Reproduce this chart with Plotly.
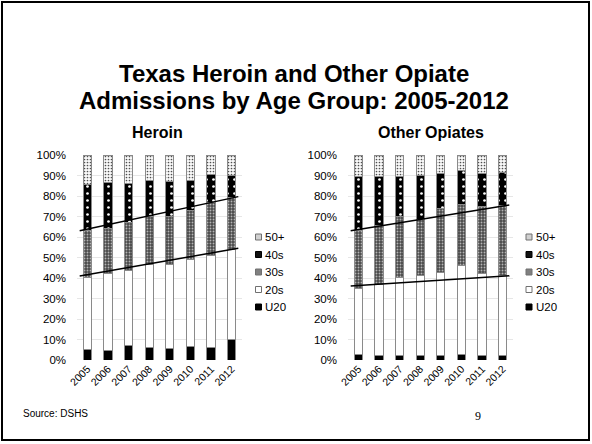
import plotly.graph_objects as go

years = ["2005", "2006", "2007", "2008", "2009", "2010", "2011", "2012"]
groups = ["U20", "20s", "30s", "40s", "50+"]

# Cumulative tops (percent), per age group
heroin_cum = {
    "U20": [4.9, 4.6, 7.3, 6.2, 5.4, 6.5, 6.0, 9.8],
    "20s": [40.3, 42.3, 43.9, 46.7, 46.7, 48.8, 51.2, 53.7],
    "30s": [63.4, 64.2, 67.0, 70.2, 70.2, 72.8, 76.7, 79.3],
    "40s": [85.4, 86.5, 86.2, 87.8, 87.3, 87.5, 90.6, 90.2],
    "50+": [100, 100, 100, 100, 100, 100, 100, 100],
}
opiates_cum = {
    "U20": [2.9, 2.4, 2.4, 2.4, 2.3, 2.6, 2.3, 2.4],
    "20s": [35.0, 36.6, 40.3, 41.0, 42.6, 46.0, 42.3, 41.0],
    "30s": [63.4, 65.4, 70.2, 68.6, 74.0, 75.9, 75.1, 75.6],
    "40s": [89.4, 89.4, 89.4, 89.8, 91.1, 92.2, 91.1, 91.5],
    "50+": [100, 100, 100, 100, 100, 100, 100, 100],
}

# Trend lines (start, end values in percent)
trend_x = [-0.37, 7.32]
heroin_trend_low = [41.0, 54.5]
heroin_trend_high = [63.1, 79.7]
opiates_trend_low = [36.1, 41.1]
opiates_trend_high = [63.1, 75.6]

ytick_vals = [0, 10, 20, 30, 40, 50, 60, 70, 80, 90, 100]
ytick_text = [f"{v}%" for v in ytick_vals]

patterns = {
    "U20": dict(bg="black", fg="black", shape="", size=4, solidity=0.3),
    "20s": dict(bg="white", fg="white", shape="", size=4, solidity=0.3),
    "30s": dict(bg="#4a4a4a", fg="#b4b4b4", shape=".", size=3, solidity=0.3),
    "40s": dict(bg="black", fg="white", shape=".", size=7, solidity=0.12),
    "50+": dict(bg="#fafafa", fg="#505050", shape=".", size=3, solidity=0.25),
}
swatch_fill = {"50+": "#d0d0d0", "40s": "#111111", "30s": "#808080", "20s": "white", "U20": "black"}

W, H = 592, 444
FONT = "Arial, Liberation Sans, sans-serif"

fig = go.Figure()


def seg(cum):
    vals = {}
    prev = [0] * len(years)
    for g in groups:
        vals[g] = [round(c - p, 2) for c, p in zip(cum[g], prev)]
        prev = cum[g]
    return vals


def add_chart(cum, tlow, thigh, xa, ya):
    vals = seg(cum)
    for g in groups:
        p = patterns[g]
        fig.add_trace(go.Bar(
            x=list(range(len(years))), y=vals[g], name=g,
            xaxis=xa, yaxis=ya, width=0.4, showlegend=False,
            marker=dict(
                color=p["bg"],
                line=dict(color="#8a8a8a", width=1),
                pattern=dict(shape=p["shape"], bgcolor=p["bg"], fgcolor=p["fg"],
                             size=p["size"], solidity=p["solidity"], fillmode="replace"),
            ),
            hoverinfo="skip",
        ))
    for t in (tlow, thigh):
        fig.add_trace(go.Scatter(
            x=trend_x, y=t, mode="lines", xaxis=xa, yaxis=ya,
            line=dict(color="black", width=1.5), showlegend=False, hoverinfo="skip",
        ))


add_chart(heroin_cum, heroin_trend_low, heroin_trend_high, "x", "y")
add_chart(opiates_cum, opiates_trend_low, opiates_trend_high, "x2", "y2")

xdom1 = [77 / W, 242 / W]
xdom2 = [348 / W, 513 / W]
ydom = [1 - 360 / H, 1 - 155 / H]

xcommon = dict(range=[-0.5, 7.5], tickvals=list(range(len(years))), ticktext=years,
               tickangle=-45, tickfont=dict(size=10.5, color="black", family=FONT),
               showgrid=False, zeroline=False, showline=False, ticks="",
               automargin=False, fixedrange=True)
ycommon = dict(range=[0, 100], tickvals=ytick_vals, ticktext=ytick_text,
               tickfont=dict(size=11.5, color="black", family=FONT),
               showgrid=True, gridcolor="#e6e6e6", gridwidth=1, zeroline=False,
               showline=False, ticks="", ticklabelstandoff=10,
               automargin=False, fixedrange=True)

shapes = [dict(type="rect", xref="paper", yref="paper",
               x0=2 / W, x1=589 / W, y0=1 - 440 / H, y1=1 - 2 / H,
               line=dict(color="black", width=2), fillcolor="rgba(0,0,0,0)")]
annotations = [
    dict(text="<b>Texas Heroin and Other Opiate</b>", x=294 / W, y=1 - 73 / H,
         xref="paper", yref="paper", showarrow=False, font=dict(size=24, family=FONT),
         xanchor="center", yanchor="middle"),
    dict(text="<b>Admissions by Age Group: 2005-2012</b>", x=294 / W, y=1 - 100 / H,
         xref="paper", yref="paper", showarrow=False, font=dict(size=24, family=FONT),
         xanchor="center", yanchor="middle"),
    dict(text="<b>Heroin</b>", x=157 / W, y=1 - 133 / H, xref="paper", yref="paper",
         showarrow=False, font=dict(size=16, family=FONT), xanchor="center", yanchor="middle"),
    dict(text="<b>Other Opiates</b>", x=431 / W, y=1 - 133 / H, xref="paper", yref="paper",
         showarrow=False, font=dict(size=16, family=FONT), xanchor="center", yanchor="middle"),
    dict(text="Source: DSHS", x=21 / W, y=1 - 413 / H, xref="paper", yref="paper",
         showarrow=False, font=dict(size=10, family=FONT), xanchor="left", yanchor="middle"),
    dict(text="9", x=478 / W, y=1 - 416 / H, xref="paper", yref="paper",
         showarrow=False, font=dict(size=12, family="Liberation Serif, Times New Roman, serif"),
         xanchor="center", yanchor="middle"),
]

# Legends (legend order top to bottom: 50+ ... U20)
legend_y = {"50+": 237, "40s": 254.5, "30s": 272, "20s": 289.5, "U20": 307}
for sx in (255.5, 526):
    for g in reversed(groups):
        yc = legend_y[g]
        shapes.append(dict(type="rect", xref="paper", yref="paper",
                           x0=sx / W, x1=(sx + 6) / W,
                           y0=1 - (yc + 3) / H, y1=1 - (yc - 3) / H,
                           fillcolor=swatch_fill[g],
                           line=dict(color="#707070" if g in ("50+", "20s", "30s") else "black", width=1)))
        annotations.append(dict(text=g, x=(sx + 7.5) / W, y=1 - yc / H, xref="paper", yref="paper",
                                showarrow=False, font=dict(size=11.5, family=FONT),
                                xanchor="left", yanchor="middle"))

fig.update_layout(
    width=W, height=H, margin=dict(l=0, r=0, t=0, b=0, autoexpand=False),
    paper_bgcolor="white", plot_bgcolor="white",
    barmode="stack", bargap=0.5, showlegend=False,
    font=dict(family=FONT, color="black"),
    xaxis=dict(domain=xdom1, anchor="y", **xcommon),
    yaxis=dict(domain=ydom, anchor="x", **ycommon),
    xaxis2=dict(domain=xdom2, anchor="y2", **xcommon),
    yaxis2=dict(domain=ydom, anchor="x2", **ycommon),
    shapes=shapes,
    annotations=annotations,
)

fig.write_html("out.html", config={"displayModeBar": False},
               post_script="document.body.style.margin='0';document.body.style.overflow='hidden';")
